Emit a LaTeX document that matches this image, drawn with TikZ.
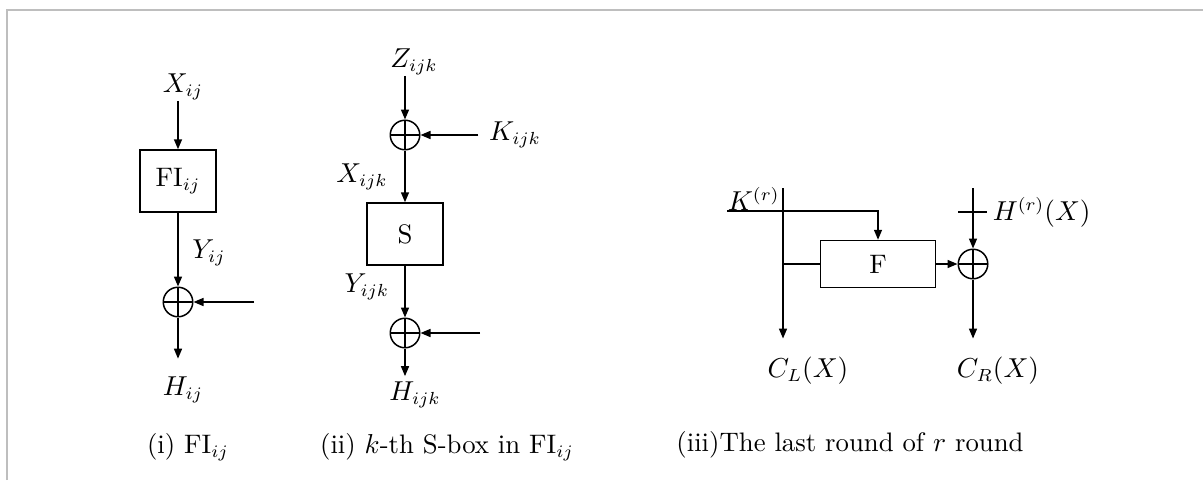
\documentclass[tikz,border=0pt]{standalone}
\usepackage{amsmath, amssymb}
\usepackage{tikz}
\usetikzlibrary{shapes, arrows.meta, positioning, calc}
\definecolor{framegray}{RGB}{190, 190, 190}

\begin{document}
\begin{tikzpicture}[
        x=0.4pt, y=-0.4pt, line width=0.6pt,
        every node/.style={font=\fontsize{10.7pt}{13pt}\selectfont},
        box/.style={rectangle, draw, line width=0.6pt,
            minimum width=30.4pt, minimum height=24.8pt, inner sep=0pt},
        fbox/.style={box, minimum width=46pt, minimum height=18.8pt},
        xor/.style={circle, draw, line width=0.6pt, minimum size=11.8pt, inner sep=0pt,
            path picture={\draw[line width=0.6pt]
                (path picture bounding box.north) -- (path picture bounding box.south)
                (path picture bounding box.west) -- (path picture bounding box.east);}},
        arrow/.style={-{Triangle[length=4pt,width=3.2pt]}, line width=0.6pt},
        txtlabel/.style={inner sep=0pt},
        caption/.style={inner sep=0pt}
        ]
        \useasboundingbox (0,0) rectangle (1203,480);
        \draw[framegray, line width=0.8pt] (6.8,480) -- (6.8,10.3) -- (1203,10.3);

        % (i)
        \node[txtlabel] (Xij) at (183,87) {$X_{ij}$};
        \node[box] (FIij) at (178,181) {FI$_{ij}$};
        \node[txtlabel] (Yij) at (209,253) {$Y_{ij}$};
        \node[xor] (xa) at (178,302) {};
        \coordinate (ina) at (254,302);
        \node[txtlabel] (Hij) at (183,390) {$H_{ij}$};

        \draw[arrow] (Xij.south -| FIij.north) -- (FIij);
        \draw[arrow] (FIij) -- (xa);
        \draw[arrow] (ina) -- (xa);
        \draw[arrow, shorten >=7pt] (xa) -- (Hij.north -| xa);

        % (ii)
        \node[txtlabel] (Zijk) at (414,62) {$Z_{ijk}$};
        \node[xor] (xb) at (405,135) {};
        \node[txtlabel] (Kijk) at (515,135) {$K_{ijk}$};
        \node[txtlabel] (Xijk) at (362,177) {$X_{ijk}$};
        \node[box] (S) at (405,234) {S};
        \node[txtlabel] (Yijk) at (367,287) {$Y_{ijk}$};
        \node[xor] (xc) at (405,333) {};
        \coordinate (inc) at (480,333);
        \node[txtlabel] (Hijk) at (415,395) {$H_{ijk}$};

        \draw[arrow] (Zijk.south -| xb.north) -- (xb);
        \draw[arrow, shorten <=4pt] (Kijk) -- (xb);
        \draw[arrow] (xb) -- (S);
        \draw[arrow] (S) -- (xc);
        \draw[arrow] (inc) -- (xc);
        \draw[arrow, shorten >=2pt] (xc) -- (Hijk.north -| xc);

        % (iii)
        \coordinate (ltop) at (783,188);
        \coordinate (rtop) at (973,188);
        \node[fbox] (F) at (878,264) {F};
        \node[xor] (xd) at (973,264) {};
        \node[txtlabel, anchor=south west] (Kr) at (727,211) {$K^{(r)}$};
        \coordinate (tickL) at (958,212);
        \coordinate (tickR) at (987,212);
        \node[txtlabel, right=2pt of tickR] (Hr) {$H^{(r)}(X)$};
        \node[txtlabel] (CL) at (808,371) {$C_L(X)$};
        \node[txtlabel] (CR) at (998,371) {$C_R(X)$};

        \draw[arrow, shorten >=7.2pt] (ltop) -- (ltop |- CL.north);
        \draw (F.west) -- (F.west -| ltop);
        \draw[arrow] (Kr.south west) -| (F.north);
        \draw[arrow] (F) -- (xd);
        \draw[arrow] (rtop) -- (xd);
        \draw[arrow, shorten >=7.2pt] (xd) -- (xd |- CR.north);
        \draw[line width=1.1pt] (tickL) -- (tickR);

        \node[caption] (capa) at (188,447) {(i) FI$_{ij}$};
        \node[caption] (capb) at (447,447) {(ii) $k$-th S-box in FI$_{ij}$};
        \node[caption] (capc) at (850,445) {(iii)The last round of $r$ round};
    \end{tikzpicture}
\end{document}
